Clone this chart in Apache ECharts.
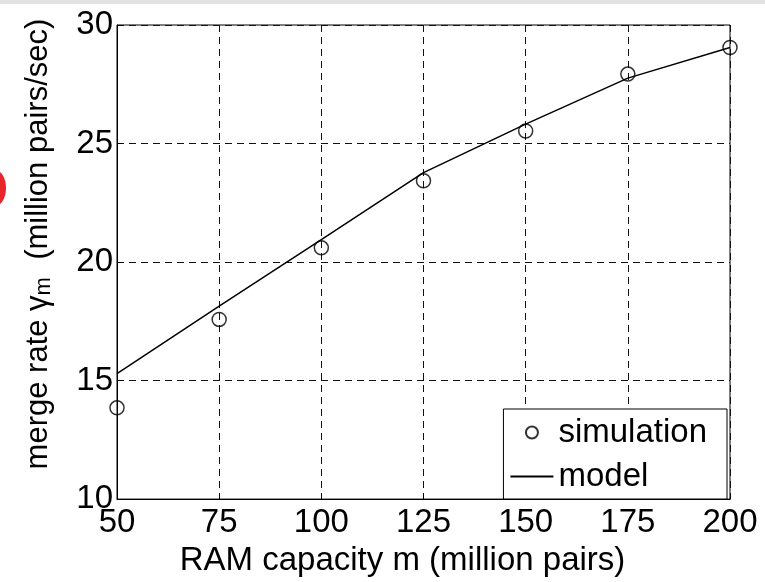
<!DOCTYPE html>
<html>
<head>
<meta charset="utf-8">
<script src="https://cdn.jsdelivr.net/npm/echarts@6/dist/echarts.min.js"></script>
<style>
  body { margin: 0; background: #fff; }
  #chart { width: 765px; height: 582px; }
  .strip { position: absolute; left: 0; top: 0; width: 765px; height: 4px; background: #e2e2e2; }
  .mark { position: absolute; left: -16px; top: 170px; width: 22px; height: 36px; border-radius: 50%; background: #e8262b; }
</style>
</head>
<body>
<div id="chart"></div>
<div class="strip"></div>
<div class="mark"></div>
<script>
// RAM capacity m (million pairs)
var capacity = [50, 75, 100, 125, 150, 175, 200];
// merge rate, million pairs/sec
var simulation = [13.85, 17.58, 20.6, 23.43, 25.53, 27.93, 29.05];
var model = [15.29, 18.14, 20.95, 23.77, 25.82, 27.76, 29.05];

var xTicks = [50, 75, 100, 125, 150, 175, 200];
var yTicks = [10, 15, 20, 25, 30];

var font = "'Liberation Sans', Arial, sans-serif";

function pairs(xs, ys) {
    var out = [];
    for (var i = 0; i < xs.length; i++) out.push([xs[i], ys[i]]);
    return out;
}

var chart = echarts.init(document.getElementById("chart"));
var option = {
    animation: false,
    textStyle: { fontFamily: font, color: "#000" },
    grid: {
        left: 117, right: 35, top: 25, bottom: 79,
        show: true, borderColor: "#000", borderWidth: 1, backgroundColor: "#fff"
    },
    legend: {
        orient: "vertical",
        right: 38,
        bottom: 83,
        backgroundColor: "#fff",
        borderColor: "#000",
        borderWidth: 1,
        borderRadius: 0,
        padding: [7, 20, 6, 6],
        itemGap: 11,
        itemWidth: 43,
        itemHeight: 12,
        textStyle: { fontFamily: font, fontSize: 33, lineHeight: 33, color: "#000" },
        data: [
            { name: "simulation" },
            { name: "model", itemStyle: { opacity: 0 } }
        ]
    },
    xAxis: {
        type: "value",
        min: xTicks[0],
        max: xTicks[xTicks.length - 1],
        interval: 25,
        name: "RAM capacity m (million pairs)",
        nameLocation: "middle",
        nameGap: 39,
        nameTextStyle: { fontFamily: font, fontSize: 33, color: "#000", padding: [0, 42, 0, 0] },
        axisLine: { lineStyle: { color: "#000", width: 1 } },
        axisTick: { inside: true, length: 5, lineStyle: { color: "#000" } },
        axisLabel: { fontFamily: font, fontSize: 33, color: "#000", margin: 7 },
        splitLine: { show: true, lineStyle: { color: "#111", type: [7, 5], width: 1 } }
    },
    yAxis: {
        type: "value",
        min: yTicks[0],
        max: yTicks[yTicks.length - 1],
        interval: 5,
        name: "{a|merge rate γ}{s|m}{a|  (million pairs/sec)}",
        nameLocation: "middle",
        nameGap: 62,
        nameTextStyle: {
            fontFamily: font, fontSize: 31, color: "#000",
            padding: [0, 0, 0, 36],
            rich: {
                a: { fontFamily: font, fontSize: 31, color: "#000", lineHeight: 34, verticalAlign: "middle" },
                s: { fontFamily: font, fontSize: 22, color: "#000", lineHeight: 34, verticalAlign: "bottom", padding: [12, 0, 0, 0] }
            }
        },
        axisLine: { lineStyle: { color: "#000", width: 1 } },
        axisTick: { inside: true, length: 5, lineStyle: { color: "#000" } },
        axisLabel: { fontFamily: font, fontSize: 33, color: "#000", margin: 4 },
        splitLine: { show: true, lineStyle: { color: "#111", type: [7, 5], width: 1 } }
    },
    series: [
        {
            name: "simulation",
            type: "scatter",
            symbol: "circle",
            symbolSize: 14,
            itemStyle: { color: "transparent", borderColor: "#000", borderWidth: 1.5 },
            data: pairs(capacity, simulation),
            z: 3
        },
        {
            name: "model",
            type: "line",
            symbol: "none",
            lineStyle: { color: "#000", width: 1.5 },
            itemStyle: { color: "#000" },
            data: pairs(capacity, model),
            z: 2
        }
    ]
};
chart.setOption(option);
</script>
</body>
</html>
